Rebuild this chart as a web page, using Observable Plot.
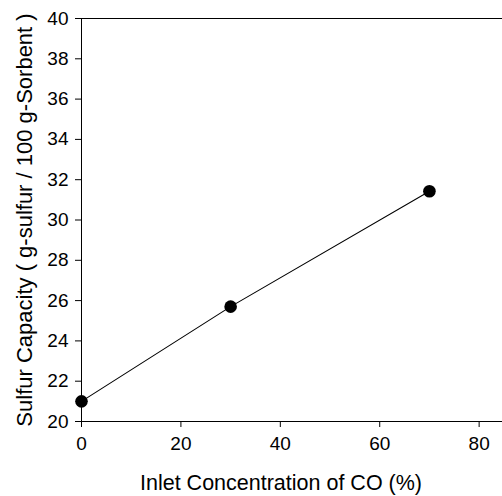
<!DOCTYPE html>
<html>
<head>
<meta charset="utf-8">
<script src="https://cdn.jsdelivr.net/npm/d3@7"></script>
<script src="https://cdn.jsdelivr.net/npm/@observablehq/plot@0.6"></script>
<style>
  html, body { margin: 0; padding: 0; background: #fff; overflow: hidden; }
  #chart svg { display: block; }
</style>
</head>
<body>
<div id="chart"></div>
<script>
const coConcentration = [0, 30, 70];
const sulfurCapacity = [21.0, 25.7, 31.43];
const xTicks = [0, 20, 40, 60, 80];
const yTicks = [20, 22, 24, 26, 28, 30, 32, 34, 36, 38, 40];
const xLabel = "Inlet Concentration of CO (%)";
const yLabel = "Sulfur Capacity ( g-sulfur / 100 g-Sorbent )";

const data = coConcentration.map((x, i) => ({x, y: sulfurCapacity[i]}));
const font = "'Liberation Sans', Arial, Helvetica, sans-serif";

const chart = Plot.plot({
  width: 502,
  height: 496,
  marginLeft: 81,
  marginRight: 0,
  marginTop: 18,
  marginBottom: 75,
  style: {fontFamily: font, fontSize: "19px", color: "#000", background: "#fff"},
  x: {domain: [0, 84.7]},
  y: {domain: [20, 40]},
  marks: [
    Plot.ruleX([0], {stroke: "#000", strokeWidth: 1}),
    Plot.ruleY([20, 40], {stroke: "#000", strokeWidth: 1}),
    Plot.axisX({ticks: xTicks, tickSize: 6, tickPadding: 9, label: null, fontSize: 19}),
    Plot.axisY({ticks: yTicks, tickSize: 6, tickPadding: 7, label: null, fontSize: 19}),
    Plot.line(data, {x: "x", y: "y", stroke: "#000", strokeWidth: 1.1}),
    Plot.dot(data, {x: "x", y: "y", r: 6.3, fill: "#000", stroke: "none"}),
    Plot.text([xLabel], {text: d => d, frameAnchor: "bottom", textAnchor: "middle", lineAnchor: "middle", dx: -11, dy: 62, fontSize: 21.5, fill: "#000"}),
    Plot.text([yLabel], {text: d => d, frameAnchor: "left", textAnchor: "middle", lineAnchor: "middle", rotate: -90, dx: -57, dy: 0, fontSize: 22, fill: "#000"})
  ]
});
document.getElementById("chart").appendChild(chart);
</script>
</body>
</html>
